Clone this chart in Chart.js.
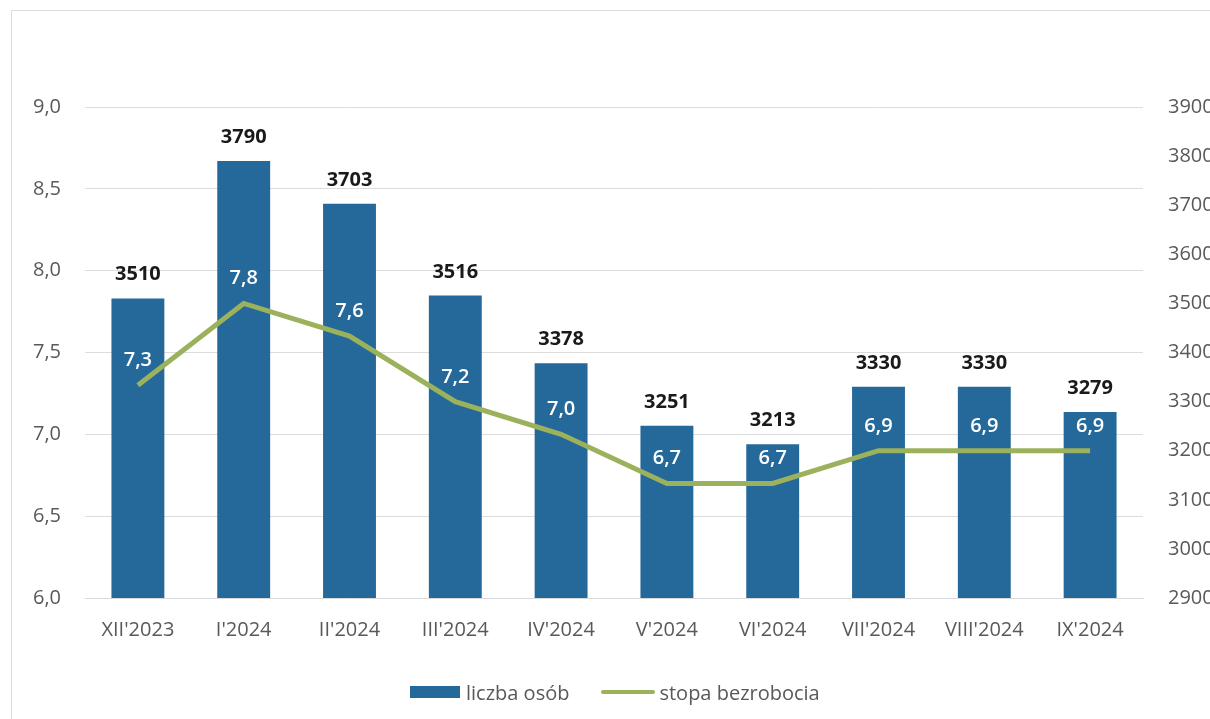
<!DOCTYPE html>
<html lang="pl">
<head>
<meta charset="utf-8">
<script src="https://cdn.jsdelivr.net/npm/chart.js@4"></script>
<style>
  html, body { margin: 0; padding: 0; background: #fff; overflow: hidden; }
  #wrap { position: relative; width: 1210px; height: 719px; overflow: hidden; }
  #frame { position: absolute; left: 11px; top: 10px; width: 1300px; height: 800px;
           border: 1px solid #dcdcdc; box-sizing: border-box; }
  #box { position: absolute; left: 0; top: 0; width: 1240px; height: 719px; }
  #legend { position: absolute; left: 410px; top: 679px; height: 26px;
            font-family: "Open Sans", sans-serif; font-size: 20px; color: #595959;
            display: flex; align-items: center; white-space: nowrap; }
  .sw-bar { display: inline-block; width: 50px; height: 12px; background: #25699a; margin-right: 6px; }
  .sw-line { display: inline-block; width: 54px; height: 4px; background: #9bb15c; margin: 0 4px 0 32px; border-radius: 2px; }
</style>
</head>
<body>
<div id="wrap">
  <div id="frame"></div>
  <div id="box"><canvas id="chart"></canvas></div>
  <div id="legend"><span class="sw-bar"></span>liczba osób<span class="sw-line"></span>stopa bezrobocia</div>
</div>
<script>
const months = ["XII'2023", "I'2024", "II'2024", "III'2024", "IV'2024", "V'2024", "VI'2024", "VII'2024", "VIII'2024", "IX'2024"];
const persons = [3510, 3790, 3703, 3516, 3378, 3251, 3213, 3330, 3330, 3279];
const rate = [7.3, 7.8, 7.6, 7.2, 7.0, 6.7, 6.7, 6.9, 6.9, 6.9];

const fmt = v => v.toFixed(1).replace('.', ',');

const valueLabels = {
  id: 'valueLabels',
  afterDatasetsDraw(chart) {
    const ctx = chart.ctx;
    ctx.save();
    ctx.textAlign = 'center';
    ctx.textBaseline = 'alphabetic';
    // numbers over the bars
    ctx.font = 'bold 20px "Open Sans", sans-serif';
    ctx.fillStyle = '#1a1a1a';
    chart.getDatasetMeta(1).data.forEach((el, i) => {
      ctx.fillText(persons[i], el.x, el.y - 18);
    });
    // rate values inside the bars
    ctx.font = '600 20px "Open Sans", sans-serif';
    ctx.fillStyle = '#ffffff';
    chart.getDatasetMeta(0).data.forEach((el, i) => {
      ctx.fillText(fmt(rate[i]), el.x, el.y - 19);
    });
    ctx.restore();
  }
};

const tickFont = { family: '"Open Sans", sans-serif', size: 20 };

new Chart(document.getElementById('chart'), {
  data: {
    labels: months,
    datasets: [
      {
        type: 'line',
        label: 'stopa bezrobocia',
        data: rate,
        yAxisID: 'yRate',
        borderColor: '#9bb15c',
        borderWidth: 5,
        pointRadius: 0,
        tension: 0,
        order: 0
      },
      {
        type: 'bar',
        label: 'liczba osób',
        data: persons,
        yAxisID: 'yPers',
        backgroundColor: '#25699a',
        barPercentage: 0.5,
        categoryPercentage: 1,
        order: 1
      }
    ]
  },
  options: {
    responsive: true,
    maintainAspectRatio: false,
    animation: false,
    layout: { padding: { top: 107, bottom: 0, left: 0, right: 0 } },
    plugins: { legend: { display: false }, tooltip: { enabled: false } },
    scales: {
      x: {
        grid: { display: false },
        border: { color: '#d9d9d9' },
        ticks: { color: '#595959', font: tickFont, padding: 12, maxRotation: 0 },
        afterFit(axis) { axis.height = 121; }
      },
      yRate: {
        position: 'left',
        min: 6, max: 9,
        grid: { color: '#dcdcdc', drawTicks: false },
        border: { display: false },
        ticks: { stepSize: 0.5, color: '#595959', font: tickFont, padding: 24,
                 callback: v => fmt(v) },
        afterFit(axis) { axis.width = 85; }
      },
      yPers: {
        position: 'right',
        min: 2900, max: 3900,
        grid: { display: false, drawTicks: false },
        border: { display: false },
        ticks: { stepSize: 100, color: '#595959', font: tickFont, padding: 25,
                 callback: v => String(v) },
        afterFit(axis) { axis.width = 97; }
      }
    }
  },
  plugins: [valueLabels]
});
</script>
</body>
</html>
